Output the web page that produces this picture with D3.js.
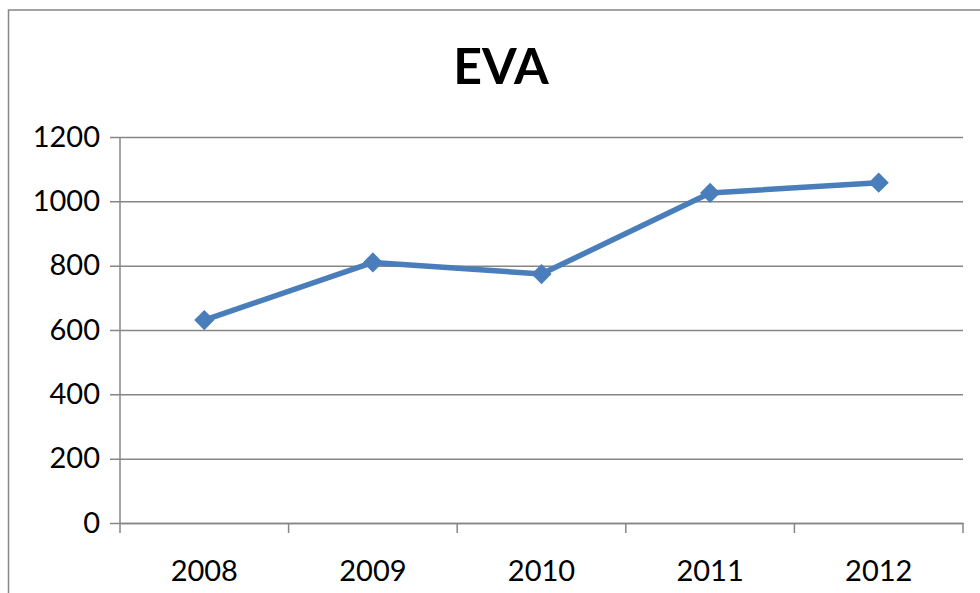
<!DOCTYPE html>
<html>
<head>
<meta charset="utf-8">
<script src="https://cdn.jsdelivr.net/npm/d3@7"></script>
<style>
  body { margin: 0; background: #fff; }
  svg { display: block; font-family: Lato, "Open Sans", sans-serif; }
</style>
</head>
<body>
<div id="container"></div>
<script>
/* DATA */
const years = ["2008", "2009", "2010", "2011", "2012"];
const evaValues = [631, 810, 774, 1026, 1058];
const yTicks = [0, 200, 400, 600, 800, 1000, 1200];
const title = "EVA";

/* CONSTANTS */
const width = 980;
const height = 593;
const plot = { left: 120, right: 963, top: 137, bottom: 523 };
const gridColor = "#868686";
const lineColor = "#4a7ebb";

const svg = d3.select("#container")
  .append("svg")
  .attr("width", width)
  .attr("height", height);

// outer chart frame
svg.append("rect")
  .attr("x", 8.5)
  .attr("y", 10)
  .attr("width", 990)
  .attr("height", 600)
  .attr("fill", "none")
  .attr("stroke", gridColor)
  .attr("stroke-width", 1.5);

/* SCALES */
const xScale = d3.scaleBand()
  .domain(years)
  .range([plot.left, plot.right]);

const yScale = d3.scaleLinear()
  .domain([0, 1200])
  .range([plot.bottom, plot.top]);

// gridlines + left axis
const yAxis = d3.axisLeft(yScale)
  .tickValues(yTicks)
  .tickFormat(d3.format("d"))
  .tickSize(-(plot.right - plot.left))
  .tickPadding(20);

const yG = svg.append("g")
  .attr("transform", `translate(${plot.left}, 0)`)
  .call(yAxis);
yG.select(".domain").remove();
yG.selectAll(".tick line")
  .attr("x1", -10)
  .attr("stroke", gridColor)
  .attr("stroke-width", 1.5);
yG.selectAll(".tick text")
  .attr("font-size", 29)
  .attr("fill", "#000")
  .attr("font-family", "Lato, sans-serif");

// vertical axis line
svg.append("line")
  .attr("x1", plot.left).attr("x2", plot.left)
  .attr("y1", plot.top).attr("y2", plot.bottom)
  .attr("stroke", gridColor)
  .attr("stroke-width", 1.5);

// bottom axis
const xAxis = d3.axisBottom(xScale).tickSize(0).tickPadding(37);
const xG = svg.append("g")
  .attr("transform", `translate(0, ${plot.bottom})`)
  .call(xAxis);
xG.select(".domain")
  .attr("stroke", gridColor)
  .attr("stroke-width", 1.5);
xG.selectAll(".tick text")
  .attr("font-size", 29)
  .attr("fill", "#000")
  .attr("font-family", "Lato, sans-serif");

// category boundary ticks
const boundaries = years.map(d => xScale(d)).concat([xScale(years[years.length - 1]) + xScale.bandwidth()]);
svg.selectAll(".xtick")
  .data(boundaries)
  .join("line")
  .attr("class", "xtick")
  .attr("x1", d => d).attr("x2", d => d)
  .attr("y1", plot.bottom).attr("y2", plot.bottom + 10)
  .attr("stroke", gridColor)
  .attr("stroke-width", 1.5);

/* LINE */
const points = years.map((y, i) => ({ year: y, value: evaValues[i] }));
const line = d3.line()
  .x(d => xScale(d.year) + xScale.bandwidth() / 2)
  .y(d => yScale(d.value));

svg.append("path")
  .datum(points)
  .attr("d", line)
  .attr("fill", "none")
  .attr("stroke", lineColor)
  .attr("stroke-width", 5.5)
  .attr("stroke-linejoin", "round");

svg.selectAll(".marker")
  .data(points)
  .join("path")
  .attr("class", "marker")
  .attr("d", d3.symbol().type(d3.symbolDiamond2).size(260))
  .attr("transform", d => `translate(${xScale(d.year) + xScale.bandwidth() / 2}, ${yScale(d.value)})`)
  .attr("fill", lineColor);

/* TITLE */
svg.append("text")
  .attr("x", 501)
  .attr("y", 84)
  .attr("text-anchor", "middle")
  .attr("font-size", 50)
  .attr("font-weight", "bold")
  .attr("font-family", "Lato, sans-serif")
  .text(title);
</script>
</body>
</html>
